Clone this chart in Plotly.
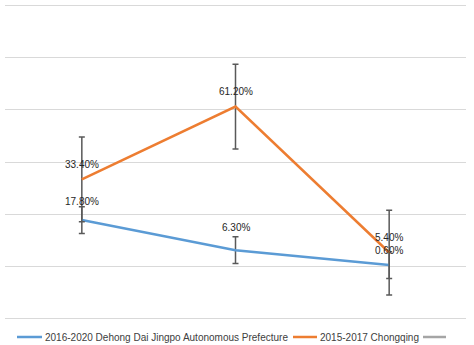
import plotly.graph_objects as go

categories = ["A", "B", "C"]
dehong = [17.8, 6.3, 0.6]
chongqing = [33.4, 61.2, 5.4]
dehong_err = [5.1, 5.1, 5.1]
chongqing_err = [16.2, 16.2, 16.2]
series_names = ["2016-2020 Dehong Dai Jingpo Autonomous Prefecture", "2015-2017 Chongqing", ""]

# label vertical offsets in px (styling)
dehong_label_shift = [19, 23, 15]
chongqing_label_shift = [15, 15, 15]

FONT = "Liberation Sans"
BLUE = "#5B9BD5"
ORANGE = "#ED7D31"
GRAY = "#A5A5A5"
ERR = "#595959"
W, H = 474, 345
ML, MR, MT, MB = 5, 8, 4, 25
PW, PH = W - ML - MR, H - MT - MB


def px_x(px):
    return (px - ML) / PW


def px_y(py):
    return (H - MB - py) / PH


fig = go.Figure()
fig.add_trace(go.Scatter(
    x=categories, y=dehong, mode="lines", name=series_names[0],
    line=dict(color=BLUE, width=2.5),
    error_y=dict(type="data", array=dehong_err, visible=True, color=ERR, thickness=1.5, width=3),
))
fig.add_trace(go.Scatter(
    x=categories, y=chongqing, mode="lines", name=series_names[1],
    line=dict(color=ORANGE, width=2.5),
    error_y=dict(type="data", array=chongqing_err, visible=True, color=ERR, thickness=1.5, width=3),
))
fig.add_trace(go.Scatter(
    x=categories, y=[None, None, None], mode="lines", name=series_names[2],
    line=dict(color=GRAY, width=2.5),
))

annotations = []
for vals, shifts in ((dehong, dehong_label_shift), (chongqing, chongqing_label_shift)):
    for c, v, s in zip(categories, vals, shifts):
        annotations.append(dict(
            x=c, y=v, xref="x", yref="y", text=f"{v:.2f}%", showarrow=False,
            yshift=s, font=dict(family=FONT, size=10, color="#262626"),
        ))

# manual legend
legend_y = 337
legend_items = [
    (BLUE, 17, 42, series_names[0]),
    (ORANGE, 293, 317, series_names[1]),
    (GRAY, 423, 446, series_names[2]),
]
shapes = []
for color, x0, x1, name in legend_items:
    shapes.append(dict(type="line", xref="paper", yref="paper",
                       x0=px_x(x0), x1=px_x(x1), y0=px_y(legend_y), y1=px_y(legend_y),
                       line=dict(color=color, width=2.5)))
    if name:
        annotations.append(dict(xref="paper", yref="paper", x=px_x(x1 + 1), y=px_y(legend_y),
                                xanchor="left", yanchor="middle", text=name, showarrow=False,
                                font=dict(family=FONT, size=10, color="#404040")))

fig.update_layout(
    width=W, height=H,
    margin=dict(l=ML, r=MR, t=MT, b=MB),
    paper_bgcolor="white", plot_bgcolor="white",
    font=dict(family=FONT, size=10, color="#404040"),
    xaxis=dict(type="category", range=[-0.5, 2.5], showticklabels=False, showgrid=False,
               zeroline=False, showline=False, ticks=""),
    yaxis=dict(range=[-20.4, 100.4], tick0=0, dtick=20, showticklabels=False, showgrid=True,
               gridcolor="#D9D9D9", gridwidth=1, zeroline=True, zerolinecolor="#D9D9D9",
               zerolinewidth=1, showline=False, ticks=""),
    showlegend=False,
    annotations=annotations,
    shapes=shapes,
)

fig.write_html("out.html")
